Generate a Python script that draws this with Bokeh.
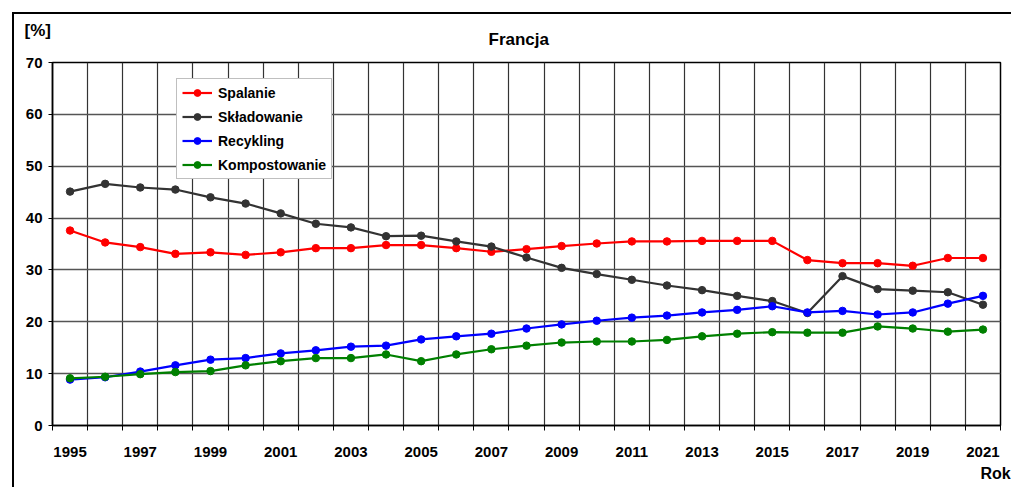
from bokeh.plotting import figure
from bokeh.models import FixedTicker, Legend, LegendItem, Title
from bokeh.embed import file_html
from bokeh.resources import INLINE

# Municipal waste treatment shares in France, per year [%]
years = list(range(1995, 2022))
spalanie = [37.6, 35.3, 34.4, 33.1, 33.4, 32.9, 33.4, 34.2, 34.2, 34.8, 34.8, 34.2, 33.5, 34.0,
            34.6, 35.1, 35.5, 35.5, 35.6, 35.6, 35.6, 31.9, 31.3, 31.3, 30.8, 32.3, 32.3]
skladowanie = [45.1, 46.6, 45.9, 45.5, 44.0, 42.8, 40.9, 38.9, 38.2, 36.5, 36.6, 35.5, 34.5, 32.4,
               30.4, 29.2, 28.1, 27.0, 26.1, 25.0, 24.0, 21.7, 28.8, 26.3, 26.0, 25.7, 23.3]
recykling = [8.85, 9.3, 10.4, 11.6, 12.7, 13.0, 13.9, 14.5, 15.2, 15.4, 16.6, 17.2, 17.7, 18.7,
             19.5, 20.2, 20.8, 21.2, 21.8, 22.3, 23.0, 21.8, 22.1, 21.4, 21.8, 23.5, 25.0]
kompostowanie = [9.1, 9.4, 9.9, 10.3, 10.5, 11.6, 12.4, 13.0, 13.0, 13.7, 12.4, 13.7, 14.7, 15.4,
                 16.0, 16.2, 16.2, 16.5, 17.2, 17.7, 18.0, 17.9, 17.9, 19.1, 18.7, 18.1, 18.5]

series_names = ["Spalanie", "Składowanie", "Recykling", "Kompostowanie"]
series_values = [spalanie, skladowanie, recykling, kompostowanie]
series_colors = ["#ff0000", "#333333", "#0000ff", "#008000"]

y_ticks = list(range(0, 71, 10))
x_label_years = list(range(1995, 2022, 2))

FONT = "Liberation Sans"

p = figure(
    width=999, height=475,
    x_range=(years[0] - 0.5, years[-1] + 0.5),
    y_range=(0, 70),
    output_backend="svg",
    toolbar_location=None,
    min_border_left=38, min_border_right=13,
    min_border_top=48, min_border_bottom=64,
    background_fill_color="white",
    border_fill_color="white",
    styles={
        "margin-left": "12px",
        "margin-top": "12px",
        "border-left": "2px solid #000000",
        "border-top": "2px solid #000000",
    },
)

p.outline_line_color = "#000000"
p.outline_line_width = 1.5

# x axis: year labels every other year, tick marks on year boundaries
boundaries = [y - 0.5 for y in years] + [years[-1] + 0.5]
xticker = FixedTicker(ticks=x_label_years, minor_ticks=boundaries)
p.xaxis.ticker = xticker
p.xaxis.major_tick_line_color = None
p.xaxis.major_tick_out = 0
p.xaxis.major_tick_in = 0
p.xaxis.minor_tick_line_color = "#000000"
p.xaxis.minor_tick_out = 5
p.xaxis.minor_tick_in = 0
p.xaxis.major_label_standoff = 16
p.xaxis.axis_line_color = "#000000"
p.xaxis.axis_line_width = 1.5

p.yaxis.ticker = FixedTicker(ticks=y_ticks)
p.yaxis.minor_tick_line_color = None
p.yaxis.major_tick_out = 4
p.yaxis.major_tick_in = 0
p.yaxis.major_tick_line_color = "#000000"
p.yaxis.major_label_standoff = 6
p.yaxis.axis_line_color = "#000000"
p.yaxis.axis_line_width = 1.5

for ax in (p.xaxis, p.yaxis):
    ax.major_label_text_font = FONT
    ax.major_label_text_font_style = "bold"
    ax.major_label_text_font_size = "15px"
    ax.major_label_text_color = "#000000"

# grid: horizontal at every 10 %, vertical at each year boundary
p.ygrid.ticker = FixedTicker(ticks=y_ticks)
p.ygrid.grid_line_color = "#555555"
p.ygrid.grid_line_width = 1.3
p.xgrid.ticker = xticker
p.xgrid.grid_line_color = None
p.xgrid.minor_grid_line_color = "#333333"
p.xgrid.minor_grid_line_width = 1.2

items = []
for name, vals, col in zip(series_names, series_values, series_colors):
    r1 = p.line(years, vals, line_color=col, line_width=2.2)
    r2 = p.scatter(years, vals, size=7.5, fill_color=col, line_color=col)
    items.append(LegendItem(label=name, renderers=[r1, r2]))

legend = Legend(
    items=items,
    location=(124, 246),
    orientation="vertical",
    glyph_width=30,
    glyph_height=17,
    label_height=17,
    spacing=7,
    padding=5,
    margin=0,
    label_standoff=6,
    label_text_font=FONT,
    label_text_font_style="bold",
    label_text_font_size="14px",
    label_text_color="#000000",
    border_line_color="#808080",
    border_line_width=1.5,
    background_fill_color="white",
    background_fill_alpha=1.0,
)
p.add_layout(legend, "center")

# chart title and unit label above the plot area, axis name below
p.add_layout(Title(text="Francja", align="left", offset=436, standoff=27,
                   text_font=FONT, text_font_style="bold", text_font_size="17px",
                   text_color="#000000"), "above")
p.add_layout(Title(text="[%]", align="left", offset=-28, standoff=-50,
                   text_font=FONT, text_font_style="bold", text_font_size="17px",
                   text_color="#000000"), "above")
p.add_layout(Title(text="Rok", align="left", offset=928, standoff=6,
                   text_font=FONT, text_font_style="bold", text_font_size="16px",
                   text_color="#000000"), "below")

open("out.html", "w").write(file_html(p, INLINE))
